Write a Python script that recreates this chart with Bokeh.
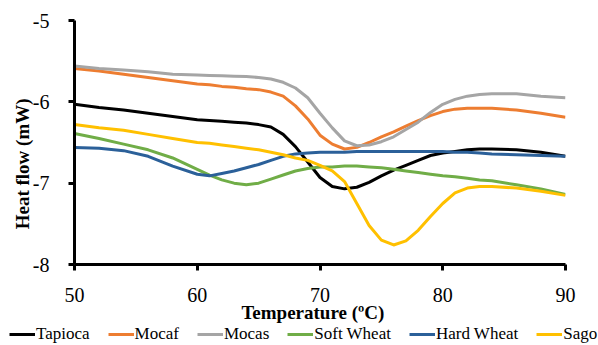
from bokeh.plotting import figure
from bokeh.models import Legend, LegendItem, FixedTicker, Range1d
from bokeh.layouts import column
from bokeh.embed import file_html
from bokeh.resources import INLINE

temperature = [50, 52, 54, 56, 58, 60, 61, 62, 63, 64, 65, 66, 67, 68, 69, 70, 71, 72,
               73, 74, 75, 76, 77, 78, 79, 80, 81, 82, 83, 84, 86, 88, 90]

tapioca = [-6.03, -6.07, -6.10, -6.14, -6.18, -6.22, -6.23, -6.24, -6.25, -6.26, -6.28,
           -6.31, -6.40, -6.55, -6.74, -6.93, -7.04, -7.07, -7.05, -6.99, -6.91, -6.84,
           -6.78, -6.72, -6.66, -6.63, -6.61, -6.59, -6.58, -6.58, -6.59, -6.62, -6.67]
mocaf = [-5.59, -5.62, -5.66, -5.70, -5.74, -5.78, -5.79, -5.81, -5.82, -5.84, -5.85,
         -5.88, -5.93, -6.05, -6.21, -6.41, -6.52, -6.58, -6.56, -6.50, -6.43, -6.37,
         -6.30, -6.23, -6.17, -6.12, -6.09, -6.08, -6.08, -6.08, -6.10, -6.14, -6.19]
mocas = [-5.56, -5.59, -5.61, -5.63, -5.66, -5.67, -5.675, -5.68, -5.685, -5.69, -5.70,
         -5.72, -5.76, -5.83, -5.95, -6.14, -6.32, -6.48, -6.54, -6.53, -6.49, -6.43,
         -6.34, -6.25, -6.13, -6.03, -5.97, -5.93, -5.91, -5.90, -5.90, -5.93, -5.95]
soft_wheat = [-6.39, -6.45, -6.52, -6.59, -6.69, -6.83, -6.90, -6.96, -7.00, -7.02, -7.00,
              -6.95, -6.90, -6.85, -6.82, -6.80, -6.80, -6.79, -6.79, -6.80, -6.81, -6.83,
              -6.85, -6.87, -6.89, -6.91, -6.92, -6.94, -6.96, -6.97, -7.02, -7.07, -7.14]
hard_wheat = [-6.56, -6.57, -6.60, -6.67, -6.79, -6.89, -6.91, -6.88, -6.85, -6.81, -6.77,
              -6.72, -6.67, -6.64, -6.63, -6.62, -6.62, -6.62, -6.61, -6.61, -6.61, -6.61,
              -6.61, -6.61, -6.61, -6.61, -6.62, -6.62, -6.63, -6.64, -6.65, -6.66, -6.67]
sago = [-6.28, -6.32, -6.35, -6.40, -6.45, -6.50, -6.51, -6.53, -6.55, -6.57, -6.59,
        -6.62, -6.65, -6.69, -6.72, -6.78, -6.85, -6.98, -7.25, -7.52, -7.70, -7.76,
        -7.71, -7.58, -7.41, -7.25, -7.12, -7.06, -7.04, -7.04, -7.06, -7.10, -7.15]

series_names = ["Tapioca", "Mocaf", "Mocas", "Soft Wheat", "Hard Wheat", "Sago"]
series_values = [tapioca, mocaf, mocas, soft_wheat, hard_wheat, sago]
series_colors = ["#000000", "#ED7D31", "#A5A5A5", "#70AD47", "#2B6099", "#FFC000"]

x_ticks = [50, 60, 70, 80, 90]
y_ticks = [-8, -7, -6, -5]

FONT = "Liberation Serif"
NBSP = "\u00a0"

# ---- main chart ----
p = figure(width=598, height=325, x_range=Range1d(50, 90), y_range=Range1d(-8, -5),
           output_backend="svg", toolbar_location=None,
           min_border_left=74, min_border_right=33, min_border_top=20, min_border_bottom=57)
p.outline_line_color = None
p.grid.grid_line_color = None

for name, vals, col in zip(series_names, series_values, series_colors):
    p.line(temperature, vals, line_color=col, line_width=3, line_join="round")

for ax in (p.xaxis[0], p.yaxis[0]):
    ax.axis_line_width = 3
    ax.axis_line_color = "black"
    ax.major_tick_line_width = 3
    ax.major_tick_line_color = "black"
    ax.major_tick_in = 0
    ax.major_tick_out = 6
    ax.minor_tick_line_color = None
    ax.major_label_text_font = FONT
    ax.major_label_text_font_size = "20px"
    ax.major_label_text_color = "black"
    ax.axis_label_text_font = FONT
    ax.axis_label_text_font_style = "bold"
    ax.axis_label_text_font_size = "19px"
    ax.axis_label_text_color = "black"

p.xaxis.ticker = FixedTicker(ticks=x_ticks)
p.yaxis.ticker = FixedTicker(ticks=y_ticks)
p.yaxis.major_label_overrides = {t: str(t) for t in y_ticks}
p.xaxis.major_label_standoff = 17
p.yaxis.major_label_standoff = 19
p.xaxis.axis_label_standoff = -3
p.yaxis.axis_label_standoff = -3

p.xaxis.axis_label = "Temperature (ºC)" + NBSP * 3
p.yaxis.axis_label = "Heat flow (mW)" + NBSP * 9

# ---- legend strip ----
lf = figure(width=598, height=20, x_range=Range1d(0, 1), y_range=Range1d(0, 1),
            output_backend="svg", toolbar_location=None, min_border=0,
            x_axis_location=None, y_axis_location=None)
lf.outline_line_color = None
lf.grid.grid_line_color = None

for fig in (p, lf):
    if "frame_align" in fig.properties():
        fig.frame_align = False

items = []
for name, vals, col in zip(series_names, series_values, series_colors):
    r = lf.line(temperature, vals, line_color=col, line_width=3, visible=False)
    items.append(LegendItem(label=name, renderers=[r]))

legend = Legend(items=items, orientation="horizontal", location=(9, 1),
                glyph_width=26, glyph_height=16, label_height=16, label_standoff=1,
                spacing=18, padding=0, margin=0, border_line_alpha=0,
                background_fill_alpha=0, label_text_font=FONT,
                label_text_font_size="17px", label_text_color="black",
                click_policy="none")
lf.add_layout(legend)

layout = column(p, lf, spacing=0)
open("out.html", "w").write(file_html(layout, INLINE))
